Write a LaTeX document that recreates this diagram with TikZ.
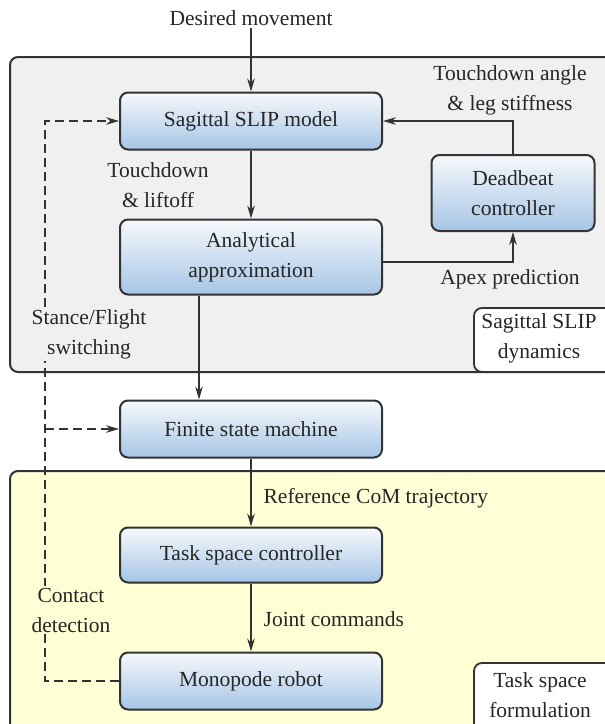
\documentclass[tikz,border=0pt]{standalone}
\usepackage{fontspec}
\setmainfont{Liberation Serif}
\usetikzlibrary{positioning,arrows.meta}
\definecolor{edgegray}{HTML}{333333}
\definecolor{boxtop}{HTML}{F6F9FC}
\definecolor{boxbot}{HTML}{A6C5E6}
\definecolor{slipgray}{HTML}{F0F0F0}
\definecolor{taskyellow}{HTML}{FFFFD6}
\tikzset{
  block/.style={rectangle, rounded corners=4pt, draw=edgegray, line width=1pt, top color=boxtop, bottom color=boxbot, minimum width=131pt, minimum height=28.5pt, align=center, inner sep=0pt},
  groupbox/.style={rounded corners=4pt, draw=edgegray, line width=1pt},
  tagbox/.style={rounded corners=4pt, draw=edgegray, line width=0.9pt, fill=white},
  lbl/.style={align=center, inner sep=1pt},
  arrow/.style={-{Stealth[length=6.5pt,width=3.8pt]}, line width=0.65pt, draw=edgegray},
  dasharrow/.style={arrow, line width=0.7pt, dash pattern=on 4.5pt off 2.5pt}
}

\begin{document}
\begin{tikzpicture}[font=\fontsize{10.75}{15}\selectfont, text=black!85]
\useasboundingbox (0,0) rectangle (302.5pt,-362pt);
% groups
\draw[groupbox, fill=slipgray] (5pt,-28.5pt) rectangle (330pt,-186pt);
\draw[groupbox, fill=taskyellow] (5pt,-235.5pt) rectangle (330pt,-380pt);
\draw[tagbox] (237pt,-154pt) rectangle (340pt,-186pt);
\draw[tagbox] (237pt,-331.5pt) rectangle (340pt,-390pt);
\node[lbl] (slipTag) at (269.5pt,-169pt) {Sagittal SLIP\\dynamics};
\node[lbl] (taskTag) at (270pt,-347.5pt) {Task space\\formulation};

\node[block] (slip) at (125.5pt,-60.5pt) {Sagittal SLIP model};
\node[block, minimum height=37.5pt, below=34pt of slip] (analytical) {Analytical\\approximation};
\node[block, minimum width=81.5pt, minimum height=38pt, below right=1.75pt and 23.75pt of slip.south east] (deadbeat) {Deadbeat\\controller};
\node[block, below=52pt of analytical] (fsm) {Finite state machine};
\node[block, minimum height=27.5pt, below=34pt of fsm] (task) {Task space controller};
\node[block, below=34pt of task] (robot) {Monopode robot};

\node[lbl] (desired) at (125.5pt,-9pt) {Desired movement};
\node[lbl] (touch) at (79pt,-92.5pt) {Touchdown\\\& liftoff};
\node[lbl] (tdangle) at (255pt,-45pt) {Touchdown angle\\\& leg stiffness};
\node[lbl] (apex) at (255pt,-139.5pt) {Apex prediction};

\draw[arrow] (desired) -- (slip);
\draw[arrow] (slip) -- (analytical);
\draw[arrow] (deadbeat.north) |- (slip.east);
\draw[arrow] ([yshift=-2.5pt]analytical.east) -| (deadbeat.south);
\draw[arrow] ([xshift=-26pt]analytical.south) -- ([xshift=-26pt]fsm.north);
\draw[arrow] (fsm) -- node[right=5pt, pos=0.58, lbl] (refcom) {Reference CoM trajectory} (task);
\draw[arrow] (task) -- node[right=5pt, pos=0.52, lbl] (joint) {Joint commands} (robot);

% contact feedback
\coordinate (bus) at ([xshift=-37pt]robot.west);
\draw[dasharrow] (robot.west) -- (bus) |- (slip.west);
\draw[dasharrow] (bus |- fsm.west) -- (fsm.west);
\node[lbl, fill=slipgray] (stance) at (44.5pt,-167pt) {Stance/Flight\\switching};
\node[lbl, fill=taskyellow] (contact) at (35.5pt,-305pt) {Contact\\detection};
\end{tikzpicture}
\end{document}
